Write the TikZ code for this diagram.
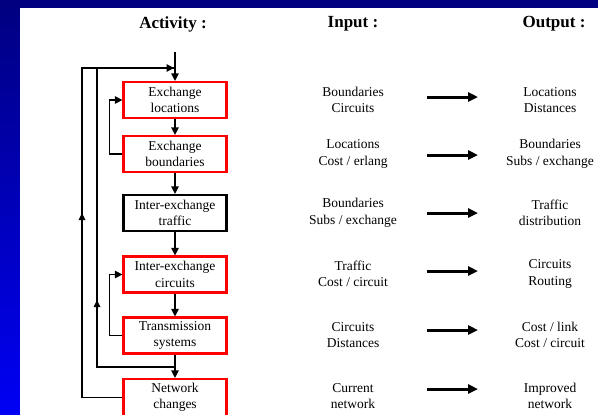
\documentclass[tikz,border=0pt]{standalone}
\usepackage{fontspec}
\setmainfont{Liberation Serif}
\usetikzlibrary{arrows.meta}
\definecolor{navy}{RGB}{0,0,128}
\definecolor{brightblue}{RGB}{0,0,245}
\definecolor{boxred}{RGB}{255,0,0}
\tikzset{
  actbox/.style={draw=boxred, line width=2.2bp, minimum width=103bp, minimum height=36bp, inner sep=0pt, align=center, font=\fontsize{13.5bp}{16.5bp}\selectfont},
  blackbox/.style={actbox, draw=black},
  iotext/.style={align=center, inner sep=0pt, font=\fontsize{13.5bp}{16.5bp}\selectfont},
  heading/.style={inner sep=0pt, font=\fontsize{17bp}{20bp}\selectfont\bfseries},
  conn/.style={line width=1.2bp, draw=black},
  tip/.style={-{Triangle[length=7.5bp,width=7.5bp]}},
  bigarrow/.style={line width=3bp, -{Triangle[length=10bp,width=9bp]}},
}
\begin{document}
\begin{tikzpicture}[x=1bp,y=-1bp]
\useasboundingbox (0,0) rectangle (598,414);
\fill[navy] (0,0) rectangle (598,8);
\shade[top color=navy, bottom color=brightblue] (0,0) rectangle (20,414);
\fill[white] (20,8) rectangle (598,414);
\begin{scope}
\clip (20,8) rectangle (598,414);
% headings
\node[heading] (hact) at (173,24) {Activity :};
\node[heading] (hin) at (353,24) {Input :};
\node[heading] (hout) at (554,24) {Output :};
% activity boxes
\node[actbox] (b1) at (175,100) {Exchange\\locations};
\node[actbox] (b2) at (175,154) {Exchange\\boundaries};
\node[blackbox] (b3) at (175,213) {Inter-exchange\\traffic};
\node[actbox] (b4) at (175,274.5) {Inter-exchange\\circuits};
\node[actbox] (b5) at (175,335.5) {Transmission\\systems};
\node[actbox, minimum height=37bp] (b6) at (175,397.5) {Network\\changes};
% coordinates
\coordinate (top) at (175,52);
\coordinate (join) at (175,68);
\coordinate (jtip) at (174,68);
\coordinate (o1) at (82,68);
\coordinate (o2) at (97,68);
\coordinate (split) at (175,367);
% down connectors
\draw[conn,tip] (top) -- (b1.north);
\draw[conn,tip] (b1.south) -- (b2.north);
\draw[conn,tip] (b2.south) -- (b3.north);
\draw[conn,tip] (b3.south) -- (b4.north);
\draw[conn,tip] (b4.south) -- (b5.north);
\draw[conn,tip] (b5.south) -- (b6.north);
% small loops
\draw[conn,tip] (b2.west) -- ++(-13,0) |- (b1.west);
\draw[conn,tip] (b5.west) -- ++(-13,0) |- (b4.west);
% outer loops
\draw[conn] (b6.west) -| (o1) -- (join);
\draw[conn,tip] (o1) -- (jtip);
\draw[conn] (split) -| (o2);
\fill (82,213) -- (85.5,220) -- (78.5,220) -- cycle;
\fill (97,300) -- (100.5,307) -- (93.5,307) -- cycle;
% input / output
\node[iotext] (i1) at (353,100) {Boundaries\\Circuits};
\node[iotext] (i2) at (353,154) {Locations\\Cost / erlang};
\node[iotext] (i3) at (353,213) {Boundaries\\Subs / exchange};
\node[iotext] (i4) at (353,274) {Traffic\\Cost / circuit};
\node[iotext] (i5) at (353,335) {Circuits\\Distances};
\node[iotext] (i6) at (353,396) {Current\\network};
\node[iotext] (p1) at (550,100) {Locations\\Distances};
\node[iotext] (p2) at (550,154) {Boundaries\\Subs / exchange};
\node[iotext] (p3) at (550,213) {Traffic\\distribution};
\node[iotext] (p4) at (550,274) {Circuits\\Routing};
\node[iotext] (p5) at (550,335) {Cost / link\\Cost / circuit};
\node[iotext] (p6) at (550,396) {Improved\\network};
\foreach \r/\yy in {1/97,2/155,3/213,4/271,5/330,6/389}{
  \coordinate (as\r) at (427,\yy);
  \coordinate (ae\r) at (478,\yy);
  \draw[bigarrow] (as\r) -- (ae\r);
}
\end{scope}
\end{tikzpicture}
\end{document}
